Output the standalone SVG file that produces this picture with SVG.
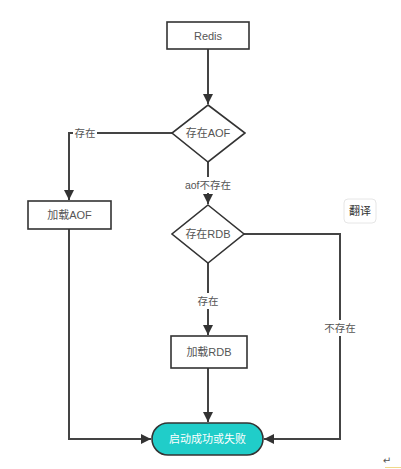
<svg xmlns="http://www.w3.org/2000/svg" width="401" height="469" viewBox="0 0 401 469">
<style>
.box{fill:#fff;stroke:#333;stroke-width:1.6}
.t{font-family:"Liberation Sans","Noto Sans CJK SC",sans-serif;font-size:11px;fill:#555;text-anchor:middle;dominant-baseline:central}
.lbl{font-family:"Liberation Sans","Noto Sans CJK SC",sans-serif;font-size:10.5px;fill:#555;text-anchor:middle;dominant-baseline:central}
.ln{fill:none;stroke:#444;stroke-width:2}
.bg{fill:#fff}
</style>
<defs>
<marker id="ah" viewBox="0 0 10 10" refX="10" refY="5" markerWidth="10" markerHeight="10" markerUnits="userSpaceOnUse" orient="auto">
<path d="M0,0 L10,5 L0,10 Z" fill="#333"/>
</marker>
</defs>
<rect width="401" height="469" fill="#fff"/>
<g id="connectors">
<path class="ln" d="M208,49 V104" marker-end="url(#ah)"/>
<path class="ln" d="M172,133 H69 V200" marker-end="url(#ah)"/>
<path class="ln" d="M208,162 V204" marker-end="url(#ah)"/>
<path class="ln" d="M208,263 V335" marker-end="url(#ah)"/>
<path class="ln" d="M244,234 H340 V439 H264" marker-end="url(#ah)"/>
<path class="ln" d="M69,229 V439 H151" marker-end="url(#ah)"/>
<path class="ln" d="M208,368 V422" marker-end="url(#ah)"/>
<rect class="bg" x="73" y="125" width="24" height="16"/>
<text class="lbl" x="85" y="133">存在</text>
<rect class="bg" x="184" y="177" width="48" height="16"/>
<text class="lbl" x="208" y="185">aof不存在</text>
<rect class="bg" x="196" y="293" width="24" height="16"/>
<text class="lbl" x="208" y="301">存在</text>
<rect class="bg" x="323" y="320" width="34" height="16"/>
<text class="lbl" x="340" y="328">不存在</text>
</g>
<g id="redis">
<rect class="box" x="167" y="22" width="82" height="27"/>
<text class="t" x="208" y="35.5">Redis</text>
</g>
<g id="aof-check">
<polygon class="box" points="208,105 245,133 208,162 172,133"/>
<text class="t" x="208" y="133">存在AOF</text>
</g>
<g id="load-aof">
<rect class="box" x="28" y="201" width="83" height="28"/>
<text class="t" x="69.5" y="215">加载AOF</text>
</g>
<g id="rdb-check">
<polygon class="box" points="208,205 244,234 208,263 172,234"/>
<text class="t" x="208" y="234">存在RDB</text>
</g>
<g id="load-rdb">
<rect class="box" x="171" y="336" width="76" height="32"/>
<text class="t" x="209" y="352">加载RDB</text>
</g>
<g id="result">
<rect x="152" y="423" width="111" height="32" rx="16" fill="#20CDC9" stroke="#333" stroke-width="1.6"/>
<text class="t" x="207.5" y="439" style="fill:#fff">启动成功或失败</text>
</g>
<g id="translate">
<rect x="344" y="199" width="32" height="24" rx="4" fill="#fff" stroke="#e6e6e6" stroke-width="1"/>
<text class="t" x="360" y="211" style="fill:#333">翻译</text>
</g>
<text x="387" y="460" style="font-family:'DejaVu Sans',sans-serif;font-size:10px;fill:#555;text-anchor:middle;dominant-baseline:central">↵</text>
<line x1="385" y1="467.5" x2="401" y2="467.5" stroke="#f0d98a" stroke-width="1"/>
</svg>
